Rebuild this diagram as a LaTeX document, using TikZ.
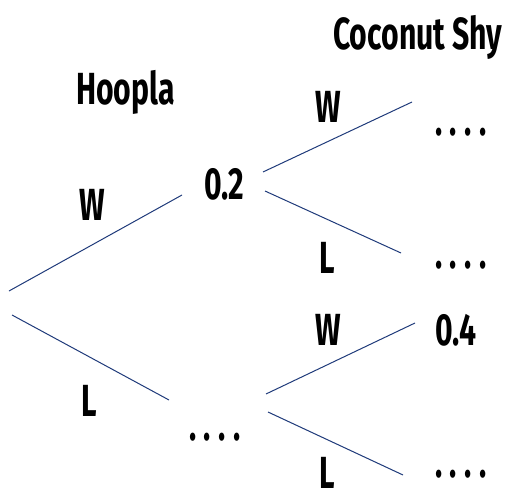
\documentclass[tikz,border=0pt]{standalone}
\usepackage{fontspec}
\newfontfamily\hand[FakeStretch=0.67]{Fira Sans}
\newcommand\fourdots{.\kern7.5pt.\kern7.5pt.\kern7.5pt.}
\tikzset{
  lbl/.style={inner sep=0pt, anchor=base west, font=\hand\bfseries\fontsize{45}{45}\selectfont},
  branch/.style={draw=navy, line width=1pt}
}
\definecolor{navy}{RGB}{31,58,122}
\begin{document}
\begin{tikzpicture}[x=1pt,y=-1pt]
\useasboundingbox (0,0) rectangle (509,492);
% labels
\node[lbl] (cs) at (333,50) {Coconut Shy};
\node[lbl] (hp) at (76,105) {Hoopla};
\node[lbl] (w1) at (79,220) {W};
\node[lbl] (p1) at (204,200) {0.2};
\node[lbl] (w2) at (315,123) {W};
\node[lbl] (d1) at (435,136) {\fourdots};
\node[lbl] (l2) at (319,273) {L};
\node[lbl] (d2) at (435,268) {\fourdots};
\node[lbl] (w3) at (315,345) {W};
\node[lbl] (p2) at (435,345) {0.4};
\node[lbl] (l1) at (81,416) {L};
\node[lbl] (d3) at (189,440) {\fourdots};
\node[lbl] (l3) at (319,488) {L};
\node[lbl] (d4) at (435,477) {\fourdots};
% branch end points
\coordinate (ra) at (9,291);
\coordinate (rb) at (12,315);
\coordinate (aW) at (182,195);
\coordinate (aL) at (169,400);
\coordinate (bWs) at (263,172);
\coordinate (bWe) at (412,102);
\coordinate (bLs) at (265,191);
\coordinate (bLe) at (401,253);
\coordinate (cWs) at (266,394);
\coordinate (cWe) at (415,323);
\coordinate (cLs) at (268,412);
\coordinate (cLe) at (403,475);
\draw[branch] (ra) -- (aW);
\draw[branch] (rb) -- (aL);
\draw[branch] (bWs) -- (bWe);
\draw[branch] (bLs) -- (bLe);
\draw[branch] (cWs) -- (cWe);
\draw[branch] (cLs) -- (cLe);
\end{tikzpicture}
\end{document}
